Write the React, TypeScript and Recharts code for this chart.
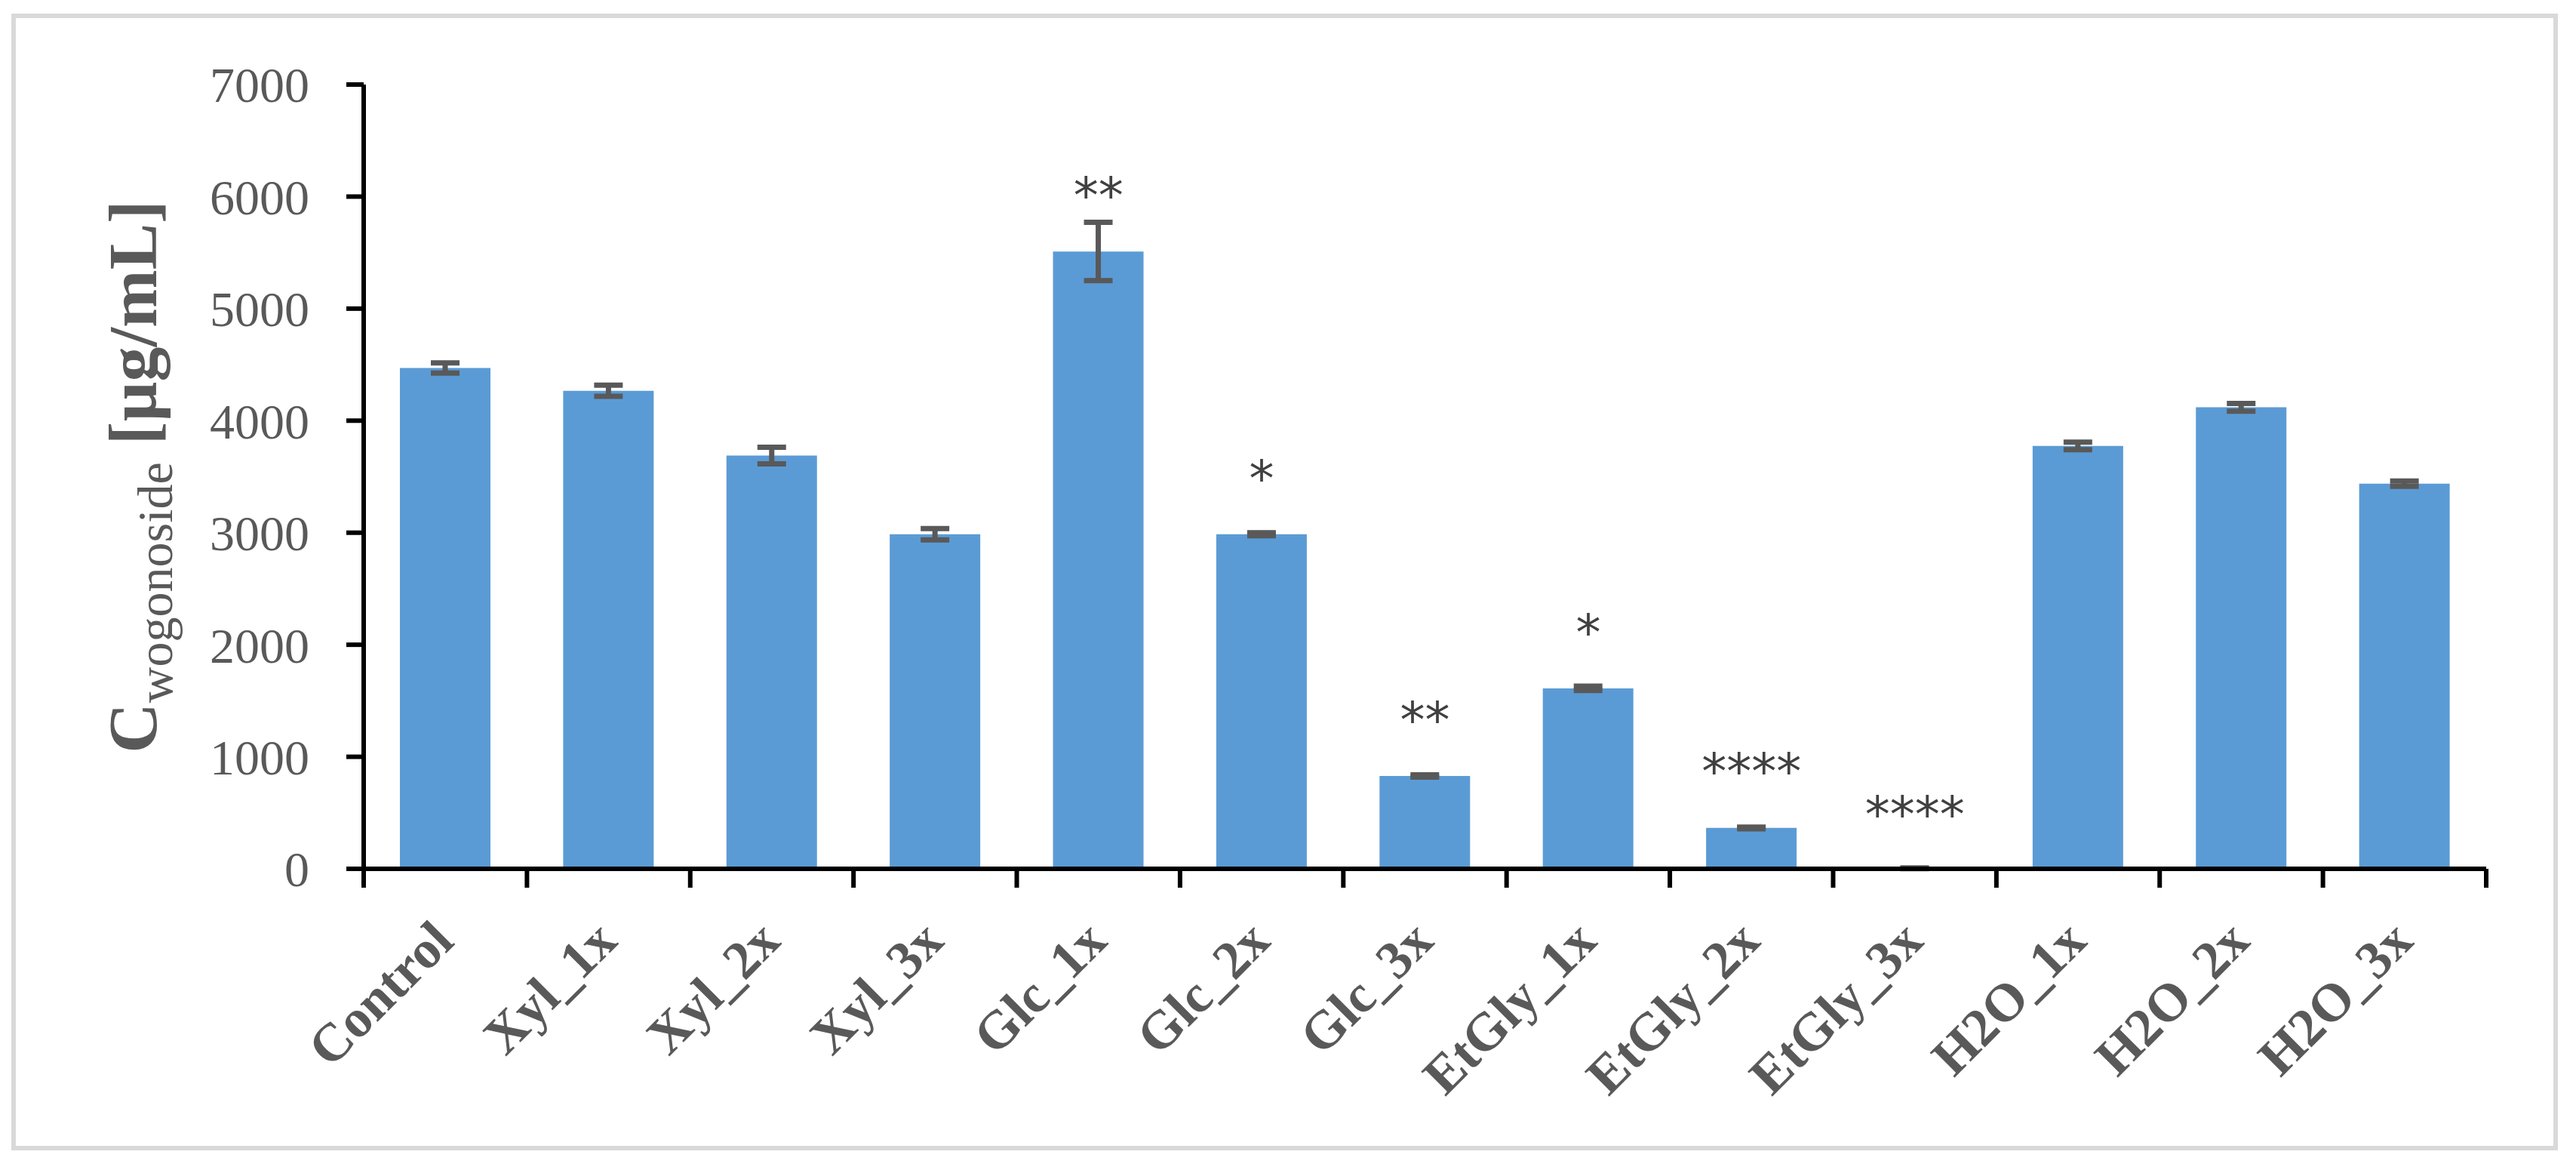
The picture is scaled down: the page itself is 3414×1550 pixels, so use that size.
import React from 'react';
import { ComposedChart, Bar, XAxis, YAxis, ErrorBar, Line } from 'recharts';

// ---- data ----
const categories = [
  'Control', 'Xyl_1x', 'Xyl_2x', 'Xyl_3x', 'Glc_1x', 'Glc_2x', 'Glc_3x',
  'EtGly_1x', 'EtGly_2x', 'EtGly_3x', 'H2O_1x', 'H2O_2x', 'H2O_3x',
];
const means = [4470, 4267, 3688, 2986, 5510, 2986, 829, 1611, 365, 5, 3775, 4119, 3438];
const errors = [45, 50, 74, 50, 260, 13, 10, 20, 8, 3, 34, 34, 24];
const sigLabels = ['', '', '', '', '**', '*', '**', '*', '****', '****', '', '', ''];
const sigPositions = [null, null, null, null, 6111, 3586, 1429, 2211, 971, 586, null, null, null];
const yTicks = [0, 1000, 2000, 3000, 4000, 5000, 6000, 7000];

const data = categories.map((name, i) => ({
  name,
  mean: means[i],
  err: errors[i],
  sigY: sigPositions[i],
}));

// ---- layout / style ----
const W = 3414;
const H = 1550;
const PLOT_LEFT = 482;
const PLOT_RIGHT = 3295;
const PLOT_TOP = 112;
const PLOT_BOTTOM = 1151;
const Y_AXIS_W = 100;
const X_AXIS_H = 299;
const GREY = '#595959';
const SERIF = "'Liberation Serif', 'Times New Roman', serif";

function XTick(props: any) {
  const { x, y, payload, index } = props;
  const half =
    payload && payload.offset ? payload.offset : (PLOT_RIGHT - PLOT_LEFT) / categories.length / 2;
  return (
    <g>
      <line x1={x - half} x2={x - half} y1={y} y2={y + 25} stroke="#000" strokeWidth={6} />
      {index === categories.length - 1 ? (
        <line x1={x + half} x2={x + half} y1={y} y2={y + 25} stroke="#000" strokeWidth={6} />
      ) : null}
      <text
        transform={`translate(${x + 14},${y + 99}) rotate(-45)`}
        textAnchor="end"
        fontFamily={SERIF}
        fontWeight="bold"
        fontSize={71}
        fill={GREY}
      >
        {payload.value}
      </text>
    </g>
  );
}

function YTitle(props: any) {
  const vb = props.viewBox || { x: 0, y: PLOT_TOP, width: 0, height: PLOT_BOTTOM - PLOT_TOP };
  const cy = vb.y + vb.height / 2;
  return (
    <text
      transform={`translate(207,${cy}) rotate(-90)`}
      textAnchor="middle"
      fontFamily={SERIF}
      fill={GREY}
    >
      <tspan fontSize={92} fontWeight="bold">C</tspan>
      <tspan fontSize={66} dy={21}>wogonoside</tspan>
      <tspan fontSize={92} fontWeight="bold" dy={-21}>{' [µg/mL]'}</tspan>
    </text>
  );
}

const renderStar = (p: any) => {
  const { x, y, index } = p;
  const s = sigLabels[index];
  if (!s || y == null || Number.isNaN(y)) return <g key={`star-${index}`} />;
  return (
    <text
      key={`star-${index}`}
      x={x}
      y={y + 38}
      textAnchor="middle"
      fontFamily="'DejaVu Sans', sans-serif"
      fontSize={66}
      fill="#404040"
    >
      {s}
    </text>
  );
};

export default function App() {
  return (
    <div style={{ position: 'absolute', left: 0, top: 0, width: W, height: H, background: '#fff' }}>
      <div
        style={{
          position: 'absolute',
          left: 15,
          top: 18,
          width: 3375,
          height: 1506,
          border: '6px solid #d9d9d9',
          boxSizing: 'border-box',
        }}
      />
      <div style={{ position: 'absolute', left: 0, top: 0 }}>
        <ComposedChart
          width={W}
          height={H}
          data={data}
          margin={{
            top: PLOT_TOP,
            right: W - PLOT_RIGHT,
            left: PLOT_LEFT - Y_AXIS_W,
            bottom: H - PLOT_BOTTOM - X_AXIS_H,
          }}
        >
          <XAxis
            dataKey="name"
            type="category"
            height={X_AXIS_H}
            interval={0}
            tickSize={0}
            tickMargin={0}
            tickLine={false}
            axisLine={{ stroke: '#000', strokeWidth: 6 }}
            tick={<XTick />}
          />
          <YAxis
            type="number"
            width={Y_AXIS_W}
            domain={[0, 7000]}
            ticks={yTicks}
            interval={0}
            allowDataOverflow
            tickSize={23}
            tickMargin={49}
            axisLine={{ stroke: '#000', strokeWidth: 6 }}
            tickLine={{ stroke: '#000', strokeWidth: 6 }}
            tick={{ fontFamily: SERIF, fontSize: 66, fill: GREY }}
            label={{ content: (lp: any) => <YTitle {...lp} /> }}
          />
          <Bar dataKey="mean" fill="#5b9bd5" barSize={120} isAnimationActive={false}>
            <ErrorBar
              dataKey="err"
              direction="y"
              width={19}
              strokeWidth={7}
              stroke={GREY}
              isAnimationActive={false}
            />
          </Bar>
          <Line
            dataKey="sigY"
            stroke="none"
            dot={false}
            activeDot={false}
            legendType="none"
            isAnimationActive={false}
            label={renderStar}
          />
        </ComposedChart>
      </div>
    </div>
  );
}
